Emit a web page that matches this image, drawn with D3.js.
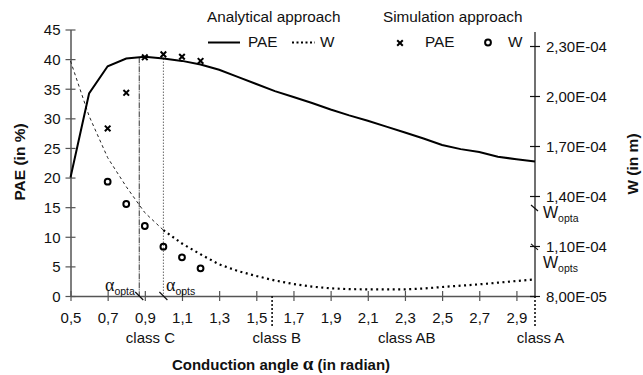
<!DOCTYPE html>
<html><head><meta charset="utf-8">
<script src="https://cdn.jsdelivr.net/npm/d3@7"></script>
<style>
body{margin:0;background:#fff;}
svg{display:block;font-family:"Liberation Sans",Arial,sans-serif;}
</style></head>
<body><svg id="c" width="643" height="375"></svg>
<script>
// ---- data ----
const alpha = [0.5,0.6,0.7,0.8,0.9,1.0,1.1,1.2,1.3,1.4,1.5,1.6,1.7,1.8,1.9,2.0,2.1,2.2,2.3,2.4,2.5,2.6,2.7,2.8,2.9,3.0];
const paeAnalytical = [20.0,34.2,38.8,40.1,40.4,40.1,39.7,39.1,38.2,37.0,35.8,34.6,33.6,32.6,31.5,30.5,29.6,28.6,27.6,26.6,25.5,24.8,24.3,23.5,23.1,22.7];
const wAnalytical = [2.21e-4,1.88e-4,1.63e-4,1.456e-4,1.30e-4,1.195e-4,1.115e-4,1.05e-4,0.99e-4,0.95e-4,0.92e-4,0.893e-4,0.872e-4,0.856e-4,0.846e-4,0.841e-4,0.840e-4,0.840e-4,0.840e-4,0.845e-4,0.854e-4,0.862e-4,0.870e-4,0.880e-4,0.890e-4,0.900e-4];
const alphaSim = [0.7,0.8,0.9,1.0,1.1,1.2];
const paeSim = [28.3,34.3,40.3,40.8,40.4,39.7];
const wSim = [1.486e-4,1.352e-4,1.22e-4,1.096e-4,1.032e-4,0.966e-4];
const alphaOpta = 0.87, alphaOpts = 1.0;
const paeOpta = 40.3, paeOpts = 40.1;
const wOpta = 1.328e-4, wOpts = 1.095e-4;
const classBounds = [1.585, 3.0];
const classLabels = [{t:"class C",a:0.93},{t:"class B",a:1.61},{t:"class AB",a:2.31},{t:"class A",a:3.03}];
const xTicks = [0.5,0.7,0.9,1.1,1.3,1.5,1.7,1.9,2.1,2.3,2.5,2.7,2.9];
const yTicks = [0,5,10,15,20,25,30,35,40,45];
const wTicks = [8e-5,1.1e-4,1.4e-4,1.7e-4,2.0e-4,2.3e-4];

// ---- layout ----
const svg = d3.select("#c");
const x = d3.scaleLinear().domain([0.5,3.0]).range([70.5,535]);
const y = d3.scaleLinear().domain([0,45]).range([296,29.5]);
const yw = d3.scaleLinear().domain([8e-5,2.3e-4]).range([296,46]);
const grey = "#555";

const fmtW = v => { const e = Math.floor(Math.log10(v)+1e-9); const m = v/Math.pow(10,e);
  return m.toFixed(2).replace(".",",") + "E-" + String(-e).padStart(2,"0"); };

// x axis
const xa = svg.append("g").attr("transform","translate(0,296)")
  .call(d3.axisBottom(x).tickValues(xTicks).tickSize(0).tickFormat(d=>d.toFixed(1).replace(".",",")));
xa.select(".domain").attr("stroke",grey).attr("stroke-width",1.5);
xa.selectAll("text").attr("font-size",15).attr("fill","#111").attr("dy",null).attr("y",27);
xa.selectAll(".tick").append("line").attr("y1",-5).attr("y2",5).attr("stroke",grey).attr("stroke-width",1.2);

// left axis
const ya = svg.append("g").attr("transform","translate(70.5,0)")
  .call(d3.axisLeft(y).tickValues(yTicks).tickSize(0).tickFormat(d=>d));
ya.select(".domain").attr("stroke",grey).attr("stroke-width",1.5);
ya.selectAll("text").attr("font-size",15).attr("fill","#111").attr("x",-10).attr("dy","0.36em");
ya.selectAll(".tick").append("line").attr("x1",-5).attr("x2",5).attr("stroke",grey).attr("stroke-width",1.2);

// right axis
const wa = svg.append("g").attr("transform","translate(535,0)")
  .call(d3.axisRight(yw).tickValues(wTicks).tickSize(0).tickFormat(fmtW));
wa.select(".domain").remove();
wa.append("line").attr("x1",0).attr("x2",0).attr("y1",32).attr("y2",296).attr("stroke","#111").attr("stroke-width",1.2);
wa.selectAll("text").attr("font-size",15).attr("fill","#111").attr("x",11).attr("dy","0.36em");
wa.selectAll(".tick").append("line").attr("x1",-5).attr("x2",5).attr("stroke","#111").attr("stroke-width",1.2);

// optimum vertical lines
svg.append("line").attr("x1",x(alphaOpta)).attr("x2",x(alphaOpta)).attr("y1",y(paeOpta)).attr("y2",296)
  .attr("stroke","#333").attr("stroke-width",1).attr("stroke-dasharray","6,1,1,1");
svg.append("line").attr("x1",x(alphaOpts)).attr("x2",x(alphaOpts)).attr("y1",y(paeOpts)).attr("y2",296)
  .attr("stroke","#444").attr("stroke-width",0.8).attr("stroke-dasharray","1.5,1.5");
// break slashes on x axis
[alphaOpta, alphaOpts].forEach(a=>{
  svg.append("line").attr("x1",x(a)-4).attr("x2",x(a)+4).attr("y1",292).attr("y2",300).attr("stroke","#111").attr("stroke-width",1.2);
});
// slashes on right axis
[wOpta, wOpts].forEach(w=>{
  svg.append("line").attr("x1",531).attr("x2",538).attr("y1",yw(w)-3).attr("y2",yw(w)+3).attr("stroke","#111").attr("stroke-width",1.2);
});

// class boundary dotted lines
classBounds.forEach(a=>{
  svg.append("line").attr("x1",x(a)).attr("x2",x(a)).attr("y1",296).attr("y2",328)
    .attr("stroke","#111").attr("stroke-width",1.6).attr("stroke-dasharray","2,2");
});
classLabels.forEach(c=>{
  svg.append("text").attr("x",x(c.a)).attr("y",343).attr("text-anchor","middle").attr("font-size",15).attr("fill","#111").text(c.t);
});

// analytical W (dotted)
const wPts = alpha.map((a,i)=>[a,wAnalytical[i]]);
const lw = d3.line().x(d=>x(d[0])).y(d=>yw(d[1]));
svg.append("path").datum(wPts.filter(d=>d[0]<=1.0)).attr("d",lw).attr("fill","none")
  .attr("stroke","#222").attr("stroke-width",1).attr("stroke-dasharray","3,3");
svg.append("path").datum(wPts.filter(d=>d[0]>=1.0)).attr("d",lw).attr("fill","none")
  .attr("stroke","#000").attr("stroke-width",2.2).attr("stroke-dasharray","2,3.5");

// analytical PAE (solid)
const lp = d3.line().x((d,i)=>x(alpha[i])).y(d=>y(d));
svg.append("path").datum(paeAnalytical).attr("d",lp).attr("fill","none").attr("stroke","#000").attr("stroke-width",2);

// simulated PAE crosses
function cross(g,cx,cy){
  g.append("path").attr("d",`M${cx-2.8},${cy-2.8}L${cx+2.8},${cy+2.8}M${cx-2.8},${cy+2.8}L${cx+2.8},${cy-2.8}`)
   .attr("stroke","#000").attr("stroke-width",2);
}
alphaSim.forEach((a,i)=>cross(svg,x(a),y(paeSim[i])));
// simulated W circles
svg.selectAll(".ws").data(alphaSim).enter().append("circle")
  .attr("cx",d=>x(d)).attr("cy",(d,i)=>yw(wSim[i])).attr("r",2.9)
  .attr("fill","none").attr("stroke","#000").attr("stroke-width",2);

// alpha labels
function sublabel(xp,yp,main,sub,serif){
  const t = svg.append("text").attr("x",xp).attr("y",yp).attr("font-size",15).attr("fill","#111");
  t.append("tspan").text(main).attr("font-family",serif?"'Liberation Serif','DejaVu Serif',serif":null).attr("font-size",serif?18:16);
  t.append("tspan").text(sub).attr("font-size",10.5).attr("dy",4);
}
sublabel(105,291,"α","opta",true);
sublabel(166,291,"α","opts",true);
sublabel(543,218,"W","opta",false);
sublabel(543,268,"W","opts",false);

// axis titles
svg.append("text").attr("x",281).attr("y",370).attr("text-anchor","middle").attr("font-size",15).attr("font-weight","bold").attr("fill","#111")
  .html('Conduction angle <tspan font-family="Liberation Serif,DejaVu Serif,serif" font-size="19">α</tspan> (in radian)');
svg.append("text").attr("transform","translate(25,162) rotate(-90)").attr("text-anchor","middle").attr("font-size",15.5).attr("font-weight","bold").attr("fill","#111").text("PAE (in %)");
svg.append("text").attr("transform","translate(638,164) rotate(-90)").attr("text-anchor","middle").attr("font-size",15.5).attr("font-weight","bold").attr("fill","#111").text("W (in m)");

// legend
const lg = svg.append("g").attr("font-size",15.3).attr("fill","#111");
lg.append("text").attr("x",207).attr("y",22).text("Analytical approach");
lg.append("text").attr("x",383).attr("y",22).text("Simulation approach");
lg.append("line").attr("x1",208).attr("x2",240).attr("y1",42.5).attr("y2",42.5).attr("stroke","#000").attr("stroke-width",2);
lg.append("text").attr("x",248).attr("y",47).text("PAE");
lg.append("line").attr("x1",292).attr("x2",315).attr("y1",42.5).attr("y2",42.5).attr("stroke","#000").attr("stroke-width",2).attr("stroke-dasharray","2,2.5");
lg.append("text").attr("x",320).attr("y",47).text("W");
cross(lg,400,43);
lg.append("text").attr("x",425).attr("y",47).text("PAE");
lg.append("circle").attr("cx",488).attr("cy",42.5).attr("r",2.9).attr("fill","none").attr("stroke","#000").attr("stroke-width",2);
lg.append("text").attr("x",508).attr("y",47).text("W");
</script></body></html>
